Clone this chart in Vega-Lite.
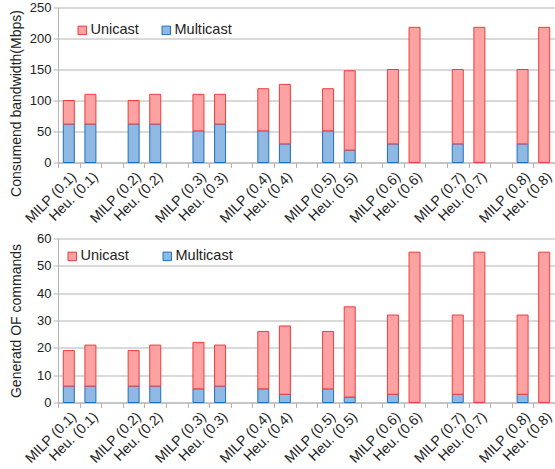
{
  "$schema": "https://vega.github.io/schema/vega-lite/v6.json",
  "autosize": {"type": "pad"},
  "padding": {"left": 8, "top": 1.5, "right": 0, "bottom": 0},
  "background": "white",
  "config": {
    "view": {"stroke": null},
    "font": "Liberation Sans",
    "axis": {"labelFont": "Liberation Sans", "titleFont": "Liberation Sans", "labelColor": "#222222", "titleColor": "#222222", "domainColor": "#b3b3b3", "tickColor": "#b3b3b3", "gridColor": "#b3b3b3", "titleFontWeight": "normal"},
    "legend": {"labelFont": "Liberation Sans", "labelColor": "#222222", "labelFontSize": 14.5}
  },
  "datasets": {
    "bw": [
      {"cat": "MILP (0.1)", "type": "Multicast", "value": 62}, {"cat": "MILP (0.1)", "type": "Unicast", "value": 38},
      {"cat": "Heu. (0.1)", "type": "Multicast", "value": 62}, {"cat": "Heu. (0.1)", "type": "Unicast", "value": 48},
      {"cat": "MILP (0.2)", "type": "Multicast", "value": 62}, {"cat": "MILP (0.2)", "type": "Unicast", "value": 38},
      {"cat": "Heu. (0.2)", "type": "Multicast", "value": 62}, {"cat": "Heu. (0.2)", "type": "Unicast", "value": 48},
      {"cat": "MILP (0.3)", "type": "Multicast", "value": 51}, {"cat": "MILP (0.3)", "type": "Unicast", "value": 59},
      {"cat": "Heu. (0.3)", "type": "Multicast", "value": 62}, {"cat": "Heu. (0.3)", "type": "Unicast", "value": 48},
      {"cat": "MILP (0.4)", "type": "Multicast", "value": 51}, {"cat": "MILP (0.4)", "type": "Unicast", "value": 68},
      {"cat": "Heu. (0.4)", "type": "Multicast", "value": 30}, {"cat": "Heu. (0.4)", "type": "Unicast", "value": 96},
      {"cat": "MILP (0.5)", "type": "Multicast", "value": 51}, {"cat": "MILP (0.5)", "type": "Unicast", "value": 68},
      {"cat": "Heu. (0.5)", "type": "Multicast", "value": 20}, {"cat": "Heu. (0.5)", "type": "Unicast", "value": 128},
      {"cat": "MILP (0.6)", "type": "Multicast", "value": 30}, {"cat": "MILP (0.6)", "type": "Unicast", "value": 120},
      {"cat": "Heu. (0.6)", "type": "Unicast", "value": 218},
      {"cat": "MILP (0.7)", "type": "Multicast", "value": 30}, {"cat": "MILP (0.7)", "type": "Unicast", "value": 120},
      {"cat": "Heu. (0.7)", "type": "Unicast", "value": 218},
      {"cat": "MILP (0.8)", "type": "Multicast", "value": 30}, {"cat": "MILP (0.8)", "type": "Unicast", "value": 120},
      {"cat": "Heu. (0.8)", "type": "Unicast", "value": 218}
    ],
    "of": [
      {"cat": "MILP (0.1)", "type": "Multicast", "value": 6}, {"cat": "MILP (0.1)", "type": "Unicast", "value": 13},
      {"cat": "Heu. (0.1)", "type": "Multicast", "value": 6}, {"cat": "Heu. (0.1)", "type": "Unicast", "value": 15},
      {"cat": "MILP (0.2)", "type": "Multicast", "value": 6}, {"cat": "MILP (0.2)", "type": "Unicast", "value": 13},
      {"cat": "Heu. (0.2)", "type": "Multicast", "value": 6}, {"cat": "Heu. (0.2)", "type": "Unicast", "value": 15},
      {"cat": "MILP (0.3)", "type": "Multicast", "value": 5}, {"cat": "MILP (0.3)", "type": "Unicast", "value": 17},
      {"cat": "Heu. (0.3)", "type": "Multicast", "value": 6}, {"cat": "Heu. (0.3)", "type": "Unicast", "value": 15},
      {"cat": "MILP (0.4)", "type": "Multicast", "value": 5}, {"cat": "MILP (0.4)", "type": "Unicast", "value": 21},
      {"cat": "Heu. (0.4)", "type": "Multicast", "value": 3}, {"cat": "Heu. (0.4)", "type": "Unicast", "value": 25},
      {"cat": "MILP (0.5)", "type": "Multicast", "value": 5}, {"cat": "MILP (0.5)", "type": "Unicast", "value": 21},
      {"cat": "Heu. (0.5)", "type": "Multicast", "value": 2}, {"cat": "Heu. (0.5)", "type": "Unicast", "value": 33},
      {"cat": "MILP (0.6)", "type": "Multicast", "value": 3}, {"cat": "MILP (0.6)", "type": "Unicast", "value": 29},
      {"cat": "Heu. (0.6)", "type": "Unicast", "value": 55},
      {"cat": "MILP (0.7)", "type": "Multicast", "value": 3}, {"cat": "MILP (0.7)", "type": "Unicast", "value": 29},
      {"cat": "Heu. (0.7)", "type": "Unicast", "value": 55},
      {"cat": "MILP (0.8)", "type": "Multicast", "value": 3}, {"cat": "MILP (0.8)", "type": "Unicast", "value": 29},
      {"cat": "Heu. (0.8)", "type": "Unicast", "value": 55}
    ]
  },
  "spacing": 76,
  "bounds": "flush",
  "resolve": {"scale": {"fill": "independent", "stroke": "independent", "x": "independent", "y": "independent"}, "legend": {"fill": "independent", "stroke": "independent"}},
  "vconcat": [
    {
      "width": 497,
      "height": 155,
      "data": {"name": "bw"},
      "mark": {"type": "bar", "size": 11, "strokeWidth": 1},
      "encoding": {
        "x": {"field": "cat", "type": "nominal", "sort": null,
          "scale": {"domain": ["MILP (0.1)", "Heu. (0.1)", "g1", "MILP (0.2)", "Heu. (0.2)", "g2", "MILP (0.3)", "Heu. (0.3)", "g3", "MILP (0.4)", "Heu. (0.4)", "g4", "MILP (0.5)", "Heu. (0.5)", "g5", "MILP (0.6)", "Heu. (0.6)", "g6", "MILP (0.7)", "Heu. (0.7)", "g7", "MILP (0.8)", "Heu. (0.8)"], "paddingInner": 0, "paddingOuter": 0},
          "axis": {"title": null, "labelAngle": -45, "labelFontSize": 14, "tickBand": "extent", "tickSize": 5, "grid": false, "labelExpr": "indexof(datum.label, 'g') == 0 ? '' : datum.label"}},
        "y": {"field": "value", "type": "quantitative", "stack": "zero",
          "scale": {"domain": [0, 250], "nice": false},
          "axis": {"values": [0, 50, 100, 150, 200, 250], "title": "Consumend bandwidth(Mbps)", "titleFontSize": 14, "labelFontSize": 13, "tickSize": 5, "labelPadding": 2, "grid": true, "titleX": -35, "titleY": 95.5, "titleAngle": -90, "titleBaseline": "bottom", "titleAlign": "center"}},
        "fill": {"field": "type", "type": "nominal",
          "scale": {"domain": ["Unicast", "Multicast"], "range": ["#fca2a2", "#8fb8e2"]},
          "legend": {"title": null, "orient": "none", "legendX": 17, "legendY": 15.5, "direction": "horizontal", "symbolType": "square", "symbolSize": 72, "symbolStrokeWidth": 1, "labelOffset": 1, "columnPadding": 20, "padding": 0}},
        "stroke": {"field": "type", "type": "nominal",
          "scale": {"domain": ["Unicast", "Multicast"], "range": ["#f03c3c", "#1f6fbf"]},
          "legend": {"title": null, "orient": "none", "legendX": 17, "legendY": 15.5, "direction": "horizontal", "symbolType": "square", "symbolSize": 72, "symbolStrokeWidth": 1, "labelOffset": 1, "columnPadding": 20, "padding": 0}},
        "order": {"field": "type", "sort": "ascending"}
      }
    },
    {
      "width": 497,
      "height": 164,
      "data": {"name": "of"},
      "mark": {"type": "bar", "size": 11, "strokeWidth": 1},
      "encoding": {
        "x": {"field": "cat", "type": "nominal", "sort": null,
          "scale": {"domain": ["MILP (0.1)", "Heu. (0.1)", "g1", "MILP (0.2)", "Heu. (0.2)", "g2", "MILP (0.3)", "Heu. (0.3)", "g3", "MILP (0.4)", "Heu. (0.4)", "g4", "MILP (0.5)", "Heu. (0.5)", "g5", "MILP (0.6)", "Heu. (0.6)", "g6", "MILP (0.7)", "Heu. (0.7)", "g7", "MILP (0.8)", "Heu. (0.8)"], "paddingInner": 0, "paddingOuter": 0},
          "axis": {"title": null, "labelAngle": -45, "labelFontSize": 14, "tickBand": "extent", "tickSize": 5, "grid": false, "labelExpr": "indexof(datum.label, 'g') == 0 ? '' : datum.label"}},
        "y": {"field": "value", "type": "quantitative", "stack": "zero",
          "scale": {"domain": [0, 60], "nice": false},
          "axis": {"values": [0, 10, 20, 30, 40, 50, 60], "title": "Generatd OF commands", "titleFontSize": 14, "labelFontSize": 13, "tickSize": 5, "labelPadding": 2, "grid": true, "titleX": -35, "titleY": 82, "titleAngle": -90, "titleBaseline": "bottom", "titleAlign": "center"}},
        "fill": {"field": "type", "type": "nominal",
          "scale": {"domain": ["Unicast", "Multicast"], "range": ["#fca2a2", "#8fb8e2"]},
          "legend": {"title": null, "orient": "none", "legendX": 7, "legendY": 10.5, "direction": "horizontal", "symbolType": "square", "symbolSize": 72, "symbolStrokeWidth": 1, "labelOffset": 1, "columnPadding": 31, "padding": 0}},
        "stroke": {"field": "type", "type": "nominal",
          "scale": {"domain": ["Unicast", "Multicast"], "range": ["#f03c3c", "#1f6fbf"]},
          "legend": {"title": null, "orient": "none", "legendX": 7, "legendY": 10.5, "direction": "horizontal", "symbolType": "square", "symbolSize": 72, "symbolStrokeWidth": 1, "labelOffset": 1, "columnPadding": 31, "padding": 0}},
        "order": {"field": "type", "sort": "ascending"}
      }
    }
  ]
}
